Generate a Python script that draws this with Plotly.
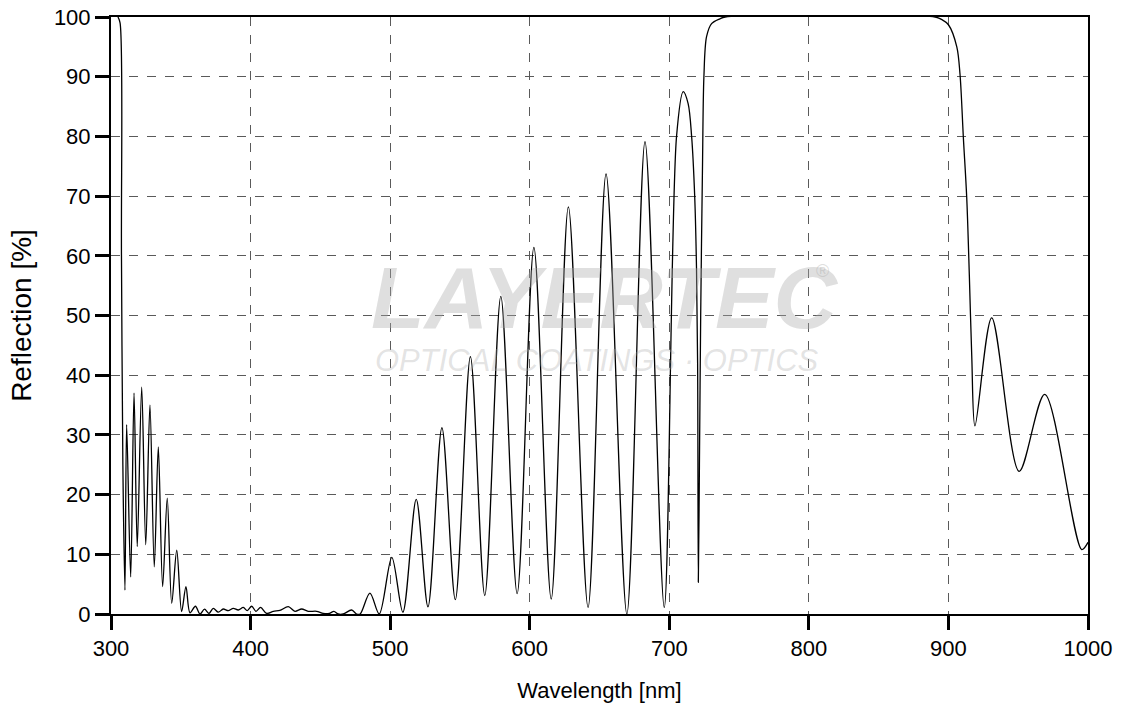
import plotly.graph_objects as go

wavelength_nm = [
    305, 306.5, 307.5, 308.5, 310, 311.2, 314.1, 316.5, 318.8, 322, 324.9, 327.9,
    331, 333.9, 337, 340.3, 343.5, 347.1, 350.6, 353.7, 356.6, 360.5, 363.8, 367,
    370.2, 373.3, 376.9, 380.4, 384, 387.6, 391.2, 394.8, 397.6, 400.8, 403.9, 407.2,
    411.5, 416.3, 421, 427, 431.8, 436.6, 441.3, 447.3, 452.1, 456.4, 459.7, 462.8,
    466.4, 472.4, 476, 478.5, 485.5, 492.2, 501.2, 509.1, 518.7, 527.1, 537.1, 546.7,
    557.5, 567.8, 579.3, 591, 603, 615.4, 627.7, 641.8, 654.7, 669.6, 682.6, 696.4,
    705.2, 710, 713.5, 716, 718.2, 719.5, 720.3, 720.8, 721.6, 722.5, 723.8, 724.8,
    726.7, 730.3, 736.3, 740, 890.5, 895, 900, 906, 908.3, 910.7, 913.1, 915,
    916.7, 919, 931, 950.7, 969, 995.5, 1000,
]
reflection_pct = [
    100, 99, 60, 25, 4, 31.7, 6.2, 37, 11.3, 38, 11.6, 35,
    7.9, 28, 4.6, 19.4, 1.8, 10.7, 0.4, 4.6, 0.2, 1.3, 0, 0.8,
    0.1, 0.95, 0.3, 0.84, 0.56, 0.95, 0.67, 1.1, 0.56, 1.3, 0.45, 1.1,
    0.1, 0.45, 0.6, 1.23, 0.45, 0.84, 0.45, 0.45, 0.1, 0.1, 0.45, 0,
    0, 0.67, 0, 0, 3.5, 0, 9.5, 0.3, 19.2, 1.2, 31.2, 2.4,
    43.1, 3.1, 53.2, 3.4, 61.4, 2.5, 68.2, 1.1, 73.7, 0, 79.1, 1.1,
    80, 87.5, 85.5, 80, 70, 58, 42, 5.3, 25, 50, 75, 90,
    96.7, 98.9, 99.7, 100, 100, 99.6, 98.7, 95, 90.4, 79.8, 69.8, 56.6,
    43.3, 31.5, 49.6, 23.9, 36.8, 10.8, 12,
]

x_ticks = [300, 400, 500, 600, 700, 800, 900, 1000]
y_ticks = [0, 10, 20, 30, 40, 50, 60, 70, 80, 90, 100]

FONT = "Liberation Sans, Arial, sans-serif"

fig = go.Figure()
fig.add_trace(go.Scatter(
    x=wavelength_nm, y=reflection_pct, mode="lines",
    line=dict(color="black", width=1.3, shape="spline", smoothing=0.9),
    showlegend=False, hoverinfo="x+y",
))

axis_common = dict(
    showline=True, linecolor="black", linewidth=2, mirror=True,
    ticks="outside", ticklen=14, tickwidth=3, tickcolor="black",
    showgrid=True, gridcolor="#5a5a5a", gridwidth=1.2, griddash="dash",
    zeroline=False, tickfont=dict(family=FONT, size=22, color="black"),
    ticklabeloverflow="allow",
)

fig.update_xaxes(
    range=[300, 1000], tickvals=x_ticks, ticktext=[str(v) for v in x_ticks],
    title=dict(text="Wavelength [nm]", font=dict(family=FONT, size=22, color="black"), standoff=22),
    **axis_common,
)
fig.update_yaxes(
    range=[0, 100], tickvals=y_ticks, ticktext=[str(v) for v in y_ticks],
    title=dict(text="Reflection [%]", font=dict(family=FONT, size=28, color="black"), standoff=14),
    **axis_common,
)

fig.add_annotation(
    text="<b><i>LAYERTEC</i></b>", xref="paper", yref="paper", x=0.506, y=0.53,
    showarrow=False, font=dict(family=FONT, size=88, color="rgba(170,170,170,0.38)"),
)
fig.add_annotation(
    text="<i>OPTICAL COATINGS · OPTICS</i>", xref="paper", yref="paper", x=0.497, y=0.425,
    showarrow=False, font=dict(family=FONT, size=31, color="rgba(170,170,170,0.32)"),
)
fig.add_annotation(
    text="®", xref="paper", yref="paper", x=0.737, y=0.575,
    showarrow=False, font=dict(family=FONT, size=18, color="rgba(170,170,170,0.4)"),
)

fig.update_layout(
    width=1122, height=715,
    margin=dict(l=111, r=34, t=17, b=101, autoexpand=False),
    paper_bgcolor="white", plot_bgcolor="white",
    font=dict(family=FONT, color="black"),
)

fig.write_html(
    "out.html",
    config={"displayModeBar": False},
    post_script="document.body.style.margin='0px';document.body.style.overflow='hidden';",
)
